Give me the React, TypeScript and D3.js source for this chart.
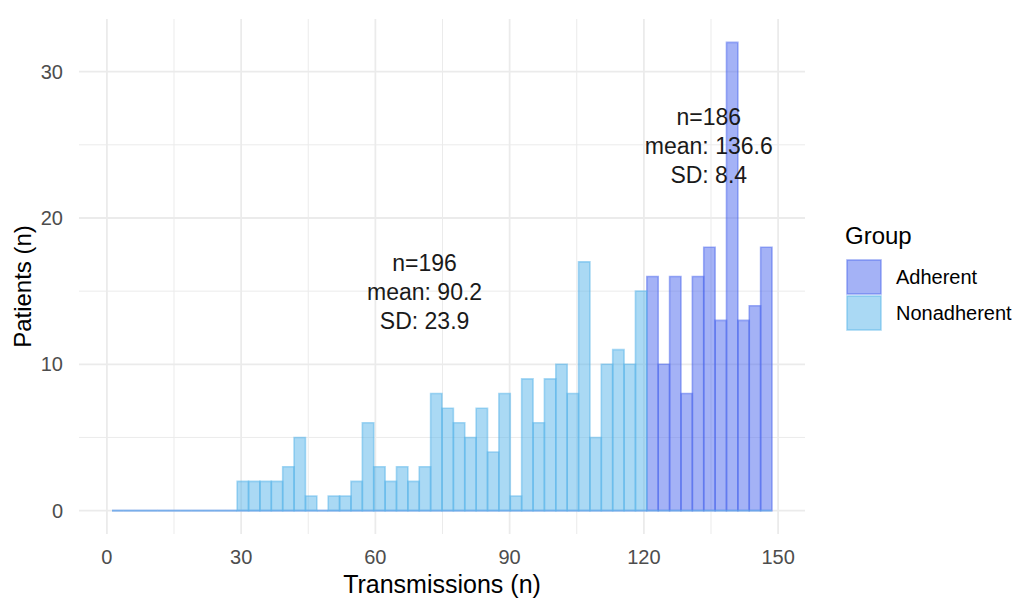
import React from "react";
import * as d3 from "d3";

// histogram bins (shared by both groups)
const binStart = 1.14;
const binWidth = 2.543;

// counts per bin
const adherentCounts = [
  0, 0, 0, 0, 0, 0, 0, 0, 0, 0,
  0, 0, 0, 0, 0, 0, 0, 0, 0, 0,
  0, 0, 0, 0, 0, 0, 0, 0, 0, 0,
  0, 0, 0, 0, 0, 0, 0, 0, 0, 0,
  0, 0, 0, 0, 0, 0, 0, 16, 10, 16,
  8, 16, 18, 13, 32, 13, 14, 18,
];
const nonadherentCounts = [
  0, 0, 0, 0, 0, 0, 0, 0, 0, 0,
  0, 2, 2, 2, 2, 3, 5, 1, 0, 1,
  1, 2, 6, 3, 2, 3, 2, 3, 8, 7,
  6, 5, 7, 4, 8, 1, 9, 6, 9, 10,
  8, 17, 5, 10, 11, 10, 15, 0, 0, 0,
  0, 0, 0, 0, 0, 0, 0, 0,
];

const groups = ["Adherent", "Nonadherent"];
const groupColors = ["#4965ed", "#56B4E9"];

// annotation text per group, with where it sits in data units
const annotations = [
  { x: 71, y: 15, lines: ["n=196", "mean: 90.2", "SD: 23.9"] },
  { x: 134.5, y: 25, lines: ["n=186", "mean: 136.6", "SD: 8.4"] },
];

const xMajor = [0, 30, 60, 90, 120, 150];
const xMinor = [15, 45, 75, 105, 135];
const yMajor = [0, 10, 20, 30];
const yMinor = [5, 15, 25];

const W = 1012;
const H = 599;
const panel = { left: 79, right: 805, top: 19, bottom: 534 };
const font = "'Liberation Sans', Arial, sans-serif";

export default function App() {
  const nBins = adherentCounts.length;
  const xLo = binStart;
  const xHi = binStart + nBins * binWidth;
  const xPad = (xHi - xLo) * 0.05;
  const yMax = d3.max([...adherentCounts, ...nonadherentCounts]) as number;
  const yPad = yMax * 0.05;

  const x = d3.scaleLinear().domain([xLo - xPad, xHi + xPad]).range([panel.left, panel.right]);
  const y = d3.scaleLinear().domain([-yPad, yMax + yPad]).range([panel.bottom, panel.top]);

  const series = [adherentCounts, nonadherentCounts];

  const barPath = (i: number, c: number) => {
    const x0 = x(binStart + i * binWidth);
    const x1 = x(binStart + (i + 1) * binWidth);
    return `M${x0},${y(0)}H${x1}V${y(c)}H${x0}Z`;
  };

  return (
    <svg width={W} height={H} style={{ position: "absolute", left: 0, top: 0, background: "#fff" }}>
      {/* grid */}
      <g>
        {yMinor.map((t) => (
          <line key={"ym" + t} x1={panel.left} x2={panel.right} y1={y(t)} y2={y(t)} stroke="#ebebeb" strokeWidth={1} />
        ))}
        {xMinor.map((t) => (
          <line key={"xm" + t} x1={x(t)} x2={x(t)} y1={panel.top} y2={panel.bottom} stroke="#ebebeb" strokeWidth={1} />
        ))}
        {yMajor.map((t) => (
          <line key={"yM" + t} x1={panel.left} x2={panel.right} y1={y(t)} y2={y(t)} stroke="#ebebeb" strokeWidth={1.8} />
        ))}
        {xMajor.map((t) => (
          <line key={"xM" + t} x1={x(t)} x2={x(t)} y1={panel.top} y2={panel.bottom} stroke="#ebebeb" strokeWidth={1.8} />
        ))}
      </g>

      {/* bars */}
      {series.map((counts, gi) => (
        <g key={groups[gi]}>
          {counts.map((c, i) => (
            <path
              key={i}
              d={barPath(i, c)}
              fill={groupColors[gi]}
              fillOpacity={0.5}
              stroke={groupColors[gi]}
              strokeOpacity={0.5}
              strokeWidth={1.6}
            />
          ))}
        </g>
      ))}

      {/* annotations */}
      {annotations.map((a, ai) => (
        <text key={ai} x={x(a.x)} y={y(a.y)} textAnchor="middle" fontFamily={font} fontSize={23} fill="#1a1a1a">
          {a.lines.map((l, li) => (
            <tspan key={li} x={x(a.x)} dy={li === 0 ? -20 : 29}>
              {l}
            </tspan>
          ))}
        </text>
      ))}

      {/* x axis labels */}
      {xMajor.map((t) => (
        <text key={"xl" + t} x={x(t)} y={564} textAnchor="middle" fontFamily={font} fontSize={20} fill="#4d4d4d">
          {t}
        </text>
      ))}
      {/* y axis labels */}
      {yMajor.map((t) => (
        <text key={"yl" + t} x={63} y={y(t) + 7} textAnchor="end" fontFamily={font} fontSize={20} fill="#4d4d4d">
          {t}
        </text>
      ))}

      <text x={(panel.left + panel.right) / 2} y={593} textAnchor="middle" fontFamily={font} fontSize={25} fill="#000">
        Transmissions (n)
      </text>
      <text
        transform={`translate(31,${(panel.top + panel.bottom) / 2 + 10}) rotate(-90)`}
        textAnchor="middle"
        fontFamily={font}
        fontSize={24}
        fill="#000"
      >
        Patients (n)
      </text>

      {/* legend */}
      <g>
        <text x={845} y={244} fontFamily={font} fontSize={24} fill="#000">
          Group
        </text>
        {groups.map((g, i) => (
          <g key={g} transform={`translate(847,${260 + i * 36})`}>
            <rect
              x={0}
              y={0}
              width={34}
              height={34}
              fill={groupColors[i]}
              fillOpacity={0.5}
              stroke={groupColors[i]}
              strokeOpacity={0.5}
              strokeWidth={1.6}
            />
            <text x={49} y={24} fontFamily={font} fontSize={20} fill="#000">
              {g}
            </text>
          </g>
        ))}
      </g>
    </svg>
  );
}
